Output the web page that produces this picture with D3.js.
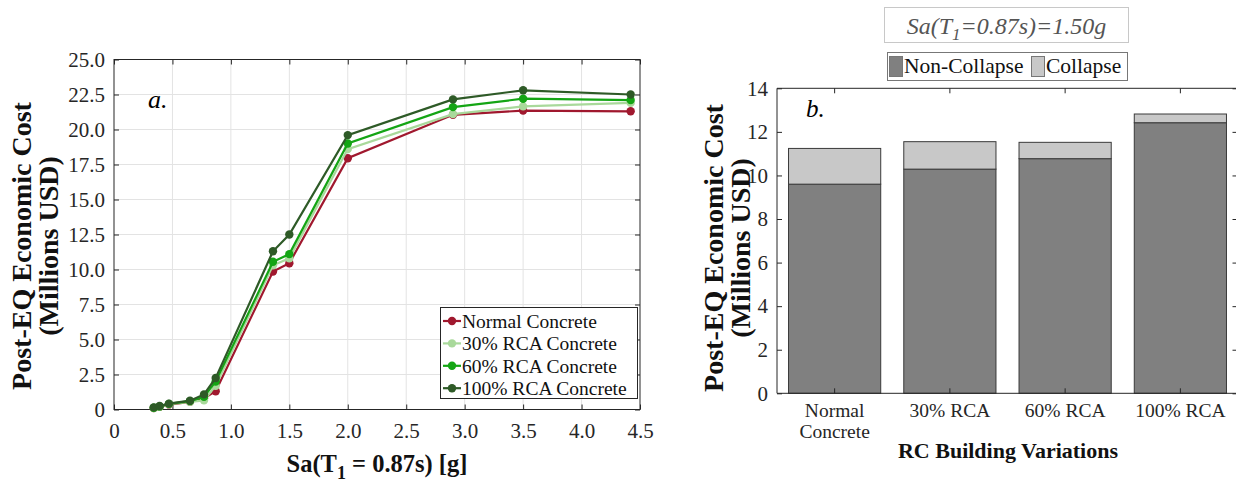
<!DOCTYPE html>
<html>
<head>
<meta charset="utf-8">
<script src="https://cdn.jsdelivr.net/npm/d3@7"></script>
<style>
  body { margin: 0; background: #fff; }
  svg { display: block; font-family: "Liberation Serif", "Times New Roman", serif; }
  svg text { font-family: "Liberation Serif", "Times New Roman", serif; }
</style>
</head>
<body>
<svg id="fig" width="1236" height="486"></svg>
<script>
// panel a: cost vs intensity
const saValues = [0.34, 0.39, 0.47, 0.65, 0.77, 0.87, 1.36, 1.50, 2.00, 2.90, 3.50, 4.42];
const costNormal = [0.10, 0.20, 0.35, 0.55, 0.80, 1.30, 9.85, 10.45, 17.95, 21.05, 21.35, 21.30];
const cost30 = [0.10, 0.20, 0.38, 0.55, 0.65, 1.70, 10.30, 10.80, 18.60, 21.10, 21.65, 21.90];
const cost60 = [0.12, 0.22, 0.40, 0.60, 0.90, 2.00, 10.55, 11.10, 19.00, 21.60, 22.20, 22.10];
const cost100 = [0.15, 0.25, 0.42, 0.63, 1.08, 2.25, 11.30, 12.50, 19.60, 22.15, 22.80, 22.50];
const seriesNames = ['Normal Concrete', '30% RCA Concrete', '60% RCA Concrete', '100% RCA Concrete'];
const xTicksA = [0, 0.5, 1, 1.5, 2, 2.5, 3, 3.5, 4, 4.5];
const yTicksA = [0, 2.5, 5, 7.5, 10, 12.5, 15, 17.5, 20, 22.5, 25];

// panel b: cost split at Sa = 1.50g
const buildings = ['Normal Concrete', '30% RCA', '60% RCA', '100% RCA'];
const nonCollapse = [9.60, 10.29, 10.77, 12.42];
const collapse = [1.64, 1.26, 0.75, 0.40];
const yTicksB = [0, 2, 4, 6, 8, 10, 12, 14];

const lineColors = ['#a0182e', '#a9d99b', '#14a514', '#2e5a27'];
const axisColor = '#262626';
const serif = '"Liberation Serif", "Times New Roman", serif';

const svg = d3.select('#fig');

// ---------- panel a ----------
const xA = d3.scaleLinear().domain([0, 4.5]).range([114, 640]);
const yA = d3.scaleLinear().domain([0, 25]).range([409.5, 59.5]);
const fmtA = (v) => (v === 0 ? '0' : d3.format('.1f')(v));

const gA = svg.append('g');

// grid
gA.append('g')
  .selectAll('line.vg')
  .data(xTicksA.slice(1, -1))
  .join('line')
  .attr('x1', d => xA(d)).attr('x2', d => xA(d))
  .attr('y1', yA(0)).attr('y2', yA(25))
  .attr('stroke', '#e3e3e3').attr('stroke-width', 1);
gA.append('g')
  .selectAll('line.hg')
  .data(yTicksA.slice(1, -1))
  .join('line')
  .attr('x1', xA(0)).attr('x2', xA(4.5))
  .attr('y1', d => yA(d)).attr('y2', d => yA(d))
  .attr('stroke', '#e3e3e3').attr('stroke-width', 1);

const styleAxis = (g) => {
  g.attr('font-family', serif).attr('font-size', 21);
  g.select('.domain').remove();
  g.selectAll('.tick line').attr('stroke', axisColor);
  g.selectAll('.tick text').attr('fill', axisColor).attr('font-family', serif).attr('font-size', 21);
};

gA.append('g').attr('transform', `translate(0,${yA(0)})`)
  .call(d3.axisBottom(xA).tickValues(xTicksA).tickFormat(fmtA).tickSizeInner(-5).tickPadding(14))
  .call(styleAxis);
gA.append('g').attr('transform', `translate(0,${yA(25)})`)
  .call(d3.axisTop(xA).tickValues(xTicksA).tickFormat('').tickSizeInner(-5))
  .call(styleAxis);
gA.append('g').attr('transform', `translate(${xA(0)},0)`)
  .call(d3.axisLeft(yA).tickValues(yTicksA).tickFormat(fmtA).tickSizeInner(-5).tickPadding(9))
  .call(styleAxis);
gA.append('g').attr('transform', `translate(${xA(4.5)},0)`)
  .call(d3.axisRight(yA).tickValues(yTicksA).tickFormat('').tickSizeInner(-5))
  .call(styleAxis);

gA.append('rect')
  .attr('x', xA(0)).attr('y', yA(25))
  .attr('width', xA(4.5) - xA(0)).attr('height', yA(0) - yA(25))
  .attr('fill', 'none').attr('stroke', axisColor).attr('stroke-width', 1);

const seriesA = [costNormal, cost30, cost60, cost100].map((vals, i) => ({
  name: seriesNames[i],
  color: lineColors[i],
  pts: vals.map((v, j) => [saValues[j], v])
}));

const line = d3.line().x(d => xA(d[0])).y(d => yA(d[1]));

const sG = gA.selectAll('g.series').data(seriesA).join('g').attr('class', 'series');
sG.append('path')
  .attr('d', d => line(d.pts))
  .attr('fill', 'none')
  .attr('stroke', d => d.color)
  .attr('stroke-width', 2.2);
sG.selectAll('circle')
  .data(d => d.pts.map(p => ({ p, color: d.color })))
  .join('circle')
  .attr('cx', d => xA(d.p[0])).attr('cy', d => yA(d.p[1]))
  .attr('r', 4.2)
  .attr('fill', d => d.color);

gA.append('text')
  .attr('x', 148).attr('y', 108)
  .attr('font-size', 26).attr('font-style', 'italic')
  .text('a.');

// legend a
const legA = gA.append('g');
legA.append('rect')
  .attr('x', 440.5).attr('y', 307.5).attr('width', 197).attr('height', 91)
  .attr('fill', '#fff').attr('stroke', axisColor);
const legRows = legA.selectAll('g').data(seriesA).join('g')
  .attr('transform', (d, i) => `translate(0,${321 + i * 22.4})`);
legRows.append('line')
  .attr('x1', 443).attr('x2', 461).attr('y1', 0).attr('y2', 0)
  .attr('stroke', d => d.color).attr('stroke-width', 2.2);
legRows.append('circle')
  .attr('cx', 452).attr('cy', 0).attr('r', 4.2).attr('fill', d => d.color);
legRows.append('text')
  .attr('x', 462).attr('y', 7)
  .attr('font-size', 19.5).attr('fill', '#111')
  .text(d => d.name);

// axis titles a
const xTitleA = gA.append('text')
  .attr('x', 377).attr('y', 472)
  .attr('text-anchor', 'middle')
  .attr('font-size', 24.5).attr('font-weight', 'bold').attr('fill', '#111');
xTitleA.append('tspan').text('Sa(T');
xTitleA.append('tspan').attr('dy', 7).attr('font-size', 18).text('1');
xTitleA.append('tspan').attr('dy', -7).text(' = 0.87s) [g]');

const yTitle = (g, cx, cy) => {
  const t = g.append('text')
    .attr('transform', `translate(${cx},${cy}) rotate(-90)`)
    .attr('text-anchor', 'middle')
    .attr('font-size', 28).attr('font-weight', 'bold').attr('fill', '#111');
  t.append('tspan').attr('x', 0).attr('y', 0).text('Post-EQ Economic Cost');
  t.append('tspan').attr('x', 0).attr('y', 27).text('(Millions USD)');
};
yTitle(gA, 31, 246);

// ---------- panel b ----------
const xB = d3.scaleBand().domain(buildings).range([777, 1238]).paddingInner(0.2).paddingOuter(0.1);
const yB = d3.scaleLinear().domain([0, 14]).range([393.3, 88.3]);

const gB = svg.append('g');

const stackData = buildings.map((b, i) => ({ name: b, nonCollapse: nonCollapse[i], collapse: collapse[i] }));
const stacked = d3.stack().keys(['nonCollapse', 'collapse'])(stackData);
const barFill = { nonCollapse: '#808080', collapse: '#c8c8c8' };

gB.selectAll('g.layer').data(stacked).join('g').attr('class', 'layer')
  .attr('fill', d => barFill[d.key])
  .selectAll('rect')
  .data(d => d)
  .join('rect')
  .attr('x', d => xB(d.data.name))
  .attr('y', d => yB(d[1]))
  .attr('width', xB.bandwidth())
  .attr('height', d => yB(d[0]) - yB(d[1]))
  .attr('stroke', '#3a3a3a').attr('stroke-width', 1);

gB.append('g').attr('transform', `translate(0,${yB(0)})`)
  .call(d3.axisBottom(xB).tickFormat('').tickSizeInner(-5).tickSizeOuter(0))
  .call(styleAxis);
gB.append('g').attr('transform', `translate(0,${yB(14)})`)
  .call(d3.axisTop(xB).tickFormat('').tickSizeInner(-5).tickSizeOuter(0))
  .call(styleAxis);
gB.append('g').attr('transform', `translate(777,0)`)
  .call(d3.axisLeft(yB).tickValues(yTicksB).tickSizeInner(-5).tickPadding(9))
  .call(styleAxis);
gB.append('g').attr('transform', `translate(1237.5,0)`)
  .call(d3.axisRight(yB).tickValues(yTicksB).tickFormat('').tickSizeInner(-5))
  .call(styleAxis);

gB.append('path')
  .attr('d', `M1237.5,${yB(14)}H777V${yB(0)}H1237.5`)
  .attr('fill', 'none').attr('stroke', axisColor);

// category labels, split into lines
gB.selectAll('text.cat').data(buildings).join('text')
  .attr('class', 'cat')
  .attr('x', d => xB(d) + xB.bandwidth() / 2)
  .attr('y', 417)
  .attr('text-anchor', 'middle')
  .attr('font-size', 19.5).attr('fill', axisColor)
  .selectAll('tspan')
  .data(d => (d === 'Normal Concrete' ? ['Normal', 'Concrete'] : [d]))
  .join('tspan')
  .attr('x', function () { return d3.select(this.parentNode).attr('x'); })
  .attr('dy', (d, i) => (i === 0 ? 0 : 21))
  .text(d => d);

gB.append('text')
  .attr('x', 806).attr('y', 117)
  .attr('font-size', 25).attr('font-style', 'italic')
  .text('b.');

gB.append('text')
  .attr('x', 1008).attr('y', 458)
  .attr('text-anchor', 'middle')
  .attr('font-size', 22).attr('font-weight', 'bold').attr('fill', '#111')
  .text('RC Building Variations');

yTitle(gB, 723, 248);

// title box
gB.append('rect')
  .attr('x', 884.5).attr('y', 7.5).attr('width', 244).attr('height', 35)
  .attr('fill', '#fff').attr('stroke', '#c8c8c8');
const ttl = gB.append('text')
  .attr('x', 1006.5).attr('y', 34)
  .attr('text-anchor', 'middle')
  .attr('font-size', 24).attr('font-style', 'italic').attr('fill', '#555');
ttl.append('tspan').text('Sa(T');
ttl.append('tspan').attr('dy', 6).attr('font-size', 17).text('1');
ttl.append('tspan').attr('dy', -6).text('=0.87s)=1.50g');

// legend b
gB.append('rect')
  .attr('x', 887.5).attr('y', 52.5).attr('width', 240).attr('height', 28)
  .attr('fill', '#fff').attr('stroke', '#777');
const legB = [
  { key: 'nonCollapse', label: 'Non-Collapse', x: 889 },
  { key: 'collapse', label: 'Collapse', x: 1031 }
];
const lb = gB.selectAll('g.legb').data(legB).join('g').attr('class', 'legb');
lb.append('rect')
  .attr('x', d => d.x + 0.5).attr('y', 56.5).attr('width', 13).attr('height', 20)
  .attr('fill', d => barFill[d.key]).attr('stroke', '#777');
lb.append('text')
  .attr('x', d => d.x + 15).attr('y', 73)
  .attr('font-size', 21.5).attr('fill', '#111')
  .text(d => d.label);
</script>
</body>
</html>
